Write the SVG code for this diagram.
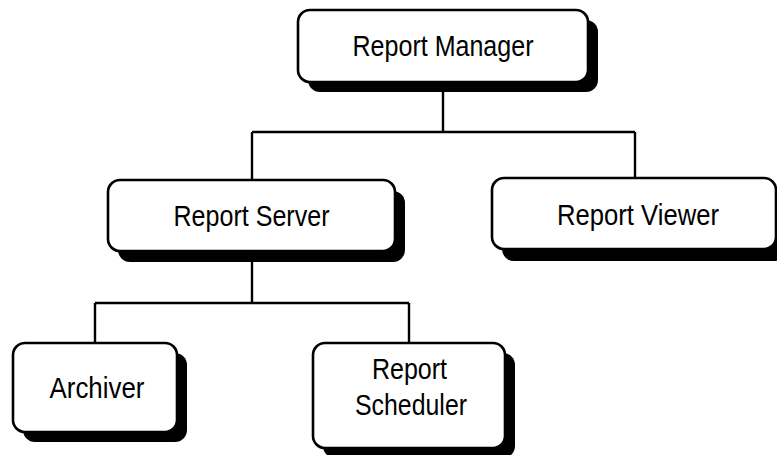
<svg xmlns="http://www.w3.org/2000/svg" width="777" height="455" viewBox="0 0 777 455">
  <style>
    .shadow { fill: #000; }
    .box { fill: #fff; stroke: #000; stroke-width: 2.6; }
    .lbl { font-family: "Liberation Sans", Arial, sans-serif; font-size: 30px; fill: #000; text-anchor: middle; }
    .conn { fill: none; stroke: #000; stroke-width: 2.4; }
  </style>
  <rect width="777" height="455" fill="#fff"/>
  <g id="connectors">
    <path class="conn" d="M443 90 V132 M252 132 H635 M252 132 V180 M635 132 V178"/>
    <path class="conn" d="M252 260 V303 M95 303 H409 M95 303 V343 M409 303 V343"/>
  </g>
  <g id="report-manager">
    <rect class="shadow" x="308" y="20" width="290" height="72" rx="12"/>
    <rect class="box" x="298" y="10" width="290" height="72" rx="12"/>
    <text class="lbl" x="443" y="56" textLength="181" lengthAdjust="spacingAndGlyphs">Report Manager</text>
  </g>
  <g id="report-server">
    <rect class="shadow" x="118" y="191" width="287" height="71" rx="12"/>
    <rect class="box" x="108" y="180" width="287" height="71" rx="12"/>
    <text class="lbl" x="251.5" y="226" textLength="156" lengthAdjust="spacingAndGlyphs">Report Server</text>
  </g>
  <g id="report-viewer">
    <rect class="shadow" x="502" y="189" width="284" height="72" rx="12"/>
    <rect class="box" x="492" y="178" width="284" height="71" rx="12"/>
    <text class="lbl" x="638" y="225" textLength="162" lengthAdjust="spacingAndGlyphs">Report Viewer</text>
  </g>
  <g id="archiver">
    <rect class="shadow" x="23" y="353" width="164" height="89" rx="12"/>
    <rect class="box" x="13" y="343" width="164" height="89" rx="12"/>
    <text class="lbl" x="97" y="398" textLength="95" lengthAdjust="spacingAndGlyphs">Archiver</text>
  </g>
  <g id="report-scheduler">
    <rect class="shadow" x="323" y="353" width="192" height="105" rx="12"/>
    <rect class="box" x="313" y="343" width="192" height="105" rx="12"/>
    <text class="lbl" x="409.5" y="379" textLength="75" lengthAdjust="spacingAndGlyphs">Report</text>
    <text class="lbl" x="411" y="415" textLength="112" lengthAdjust="spacingAndGlyphs">Scheduler</text>
  </g>
</svg>
